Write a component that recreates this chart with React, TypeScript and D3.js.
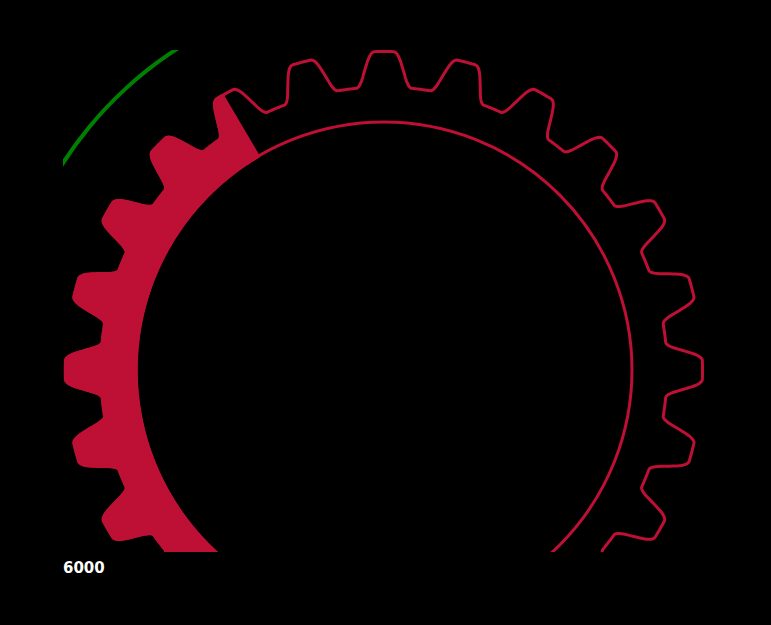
import React, { useEffect, useRef } from 'react';
import * as d3 from 'd3';

// gauge values
const gaugeDomain = [0, 6000];
const gaugeValue = 2390;
const greenZone = [1500, 2800];
const tickLabels = ['6000'];
const toothCount = 24;

const W = 771;
const H = 625;
const CRIMSON = '#be0f34';

const App: React.FC = () => {
  const svgRef = useRef<SVGSVGElement>(null);

  useEffect(() => {
    if (!svgRef.current) return;
    const root = d3.select(svgRef.current);
    root.selectAll('*').remove();

    const cx = 384;
    const cy = 370;
    const rHole = 248;
    const rRoot = 283;
    const rTip = 318.5;

    const angle = d3.scaleLinear()
      .domain(gaugeDomain)
      .range([(-150 * Math.PI) / 180, (150 * Math.PI) / 180]);

    // tooth profile, radius as a function of angle (degrees)
    const pitch = 360 / toothCount;
    const tipHalf = 2.4;
    const rootHalf = 4.9;
    const linear = (deg: number) => {
      let d = ((deg % pitch) + pitch) % pitch;
      if (d > pitch / 2) d = pitch - d;
      if (d <= tipHalf) return rTip;
      if (d >= rootHalf) return rRoot;
      return rTip + ((rRoot - rTip) * (d - tipHalf)) / (rootHalf - tipHalf);
    };
    const profile = (deg: number) => {
      // soften the corners
      const w = 0.7;
      const n = 8;
      let s = 0;
      for (let k = -n; k <= n; k++) s += linear(deg + (w * k) / n);
      return s / (2 * n + 1);
    };

    const defs = root.append('defs');
    defs.append('clipPath')
      .attr('id', 'plot-clip')
      .append('rect')
      .attr('x', 63)
      .attr('y', 50)
      .attr('width', 650)
      .attr('height', 502);

    root.append('rect').attr('width', W).attr('height', H).attr('fill', '#000');

    const g = root.append('g').attr('clip-path', 'url(#plot-clip)')
      .append('g')
      .attr('transform', `translate(${cx},${cy})`);

    const radial = d3.lineRadial<[number, number]>()
      .angle(d => d[0])
      .radius(d => d[1])
      .curve(d3.curveLinearClosed);

    // green zone arc
    const arc = d3.arc();
    g.append('path')
      .attr('d', arc({
        innerRadius: 380,
        outerRadius: 384,
        startAngle: angle(greenZone[0]),
        endAngle: angle(greenZone[1]),
      }) as string)
      .attr('fill', '#008000');

    // full gear outline
    const outline: [number, number][] = d3.range(0, 360, 0.2)
      .map(deg => [(deg * Math.PI) / 180, profile(deg)]);
    g.append('path')
      .attr('d', radial(outline) as string)
      .attr('fill', 'none')
      .attr('stroke', CRIMSON)
      .attr('stroke-width', 3);
    g.append('circle')
      .attr('r', rHole)
      .attr('fill', 'none')
      .attr('stroke', CRIMSON)
      .attr('stroke-width', 3);

    // filled portion up to the value
    const a0 = (angle(gaugeDomain[0]) * 180) / Math.PI;
    const a1 = (angle(gaugeValue) * 180) / Math.PI;
    const outer = d3.range(a0, a1, 0.2).concat([a1]);
    const filled: [number, number][] = outer
      .map(deg => [(deg * Math.PI) / 180, profile(deg)] as [number, number])
      .concat(outer.slice().reverse().map(deg => [(deg * Math.PI) / 180, rHole] as [number, number]));
    g.append('path')
      .attr('d', radial(filled) as string)
      .attr('fill', CRIMSON)
      .attr('stroke', CRIMSON)
      .attr('stroke-width', 3.5)
      .attr('stroke-linejoin', 'round');

    // label
    root.selectAll('.tick-label')
      .data(tickLabels)
      .enter()
      .append('text')
      .attr('class', 'tick-label')
      .attr('x', 63)
      .attr('y', 573)
      .style('font-family', '"DejaVu Sans", sans-serif')
      .style('font-size', '15px')
      .style('font-weight', 'bold')
      .style('fill', '#fff')
      .text(d => d);
  }, []);

  return (
    <div style={{ position: 'fixed', left: 0, top: 0, width: W, height: H, background: '#000' }}>
      <svg ref={svgRef} width={W} height={H} style={{ display: 'block' }} />
    </div>
  );
};

export default App;
